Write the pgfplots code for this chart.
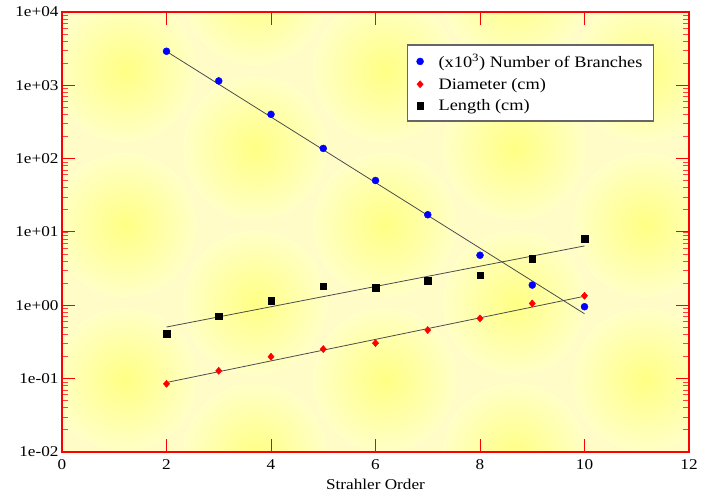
\documentclass[border=0pt]{standalone}
\usepackage{fontspec}
\setmainfont[FakeStretch=1.15]{Liberation Serif}
\usepackage{pgfplots}
\pgfplotsset{compat=1.18}
\tikzset{blob/.style={inner color=yellow!48, outer color=yellow!22}}
\newcommand\blob[2]{\shade[blob] (rel axis cs:#1,#2) circle (72bp);}
\begin{document}
\begin{tikzpicture}
\begin{axis}[
  name=ax,
  axis on top,
  scale only axis,
  width=627bp, height=440bp,
  ymode=log,
  xmin=0, xmax=12, ymin=1e-2, ymax=1e4,
  xtick={0,2,4,6,8,10,12},
  xticklabels={0,2,4,6,8,10,12},
  ytick={1e-2,1e-1,1,1e1,1e2,1e3,1e4},
  yticklabels={1e-02,1e-01,1e+00,1e+01,1e+02,1e+03,1e+04},
  tick align=inside,
  major tick length=13bp,
  minor tick length=6bp,
  axis line style={red, line width=1.6bp},
  every tick/.style={red, line width=1bp},
  every minor tick/.style={red!75, line width=0.9bp},
  ticklabel style={font=\fontsize{15}{18}\selectfont},
  xticklabel style={yshift=-4.5bp},
  xlabel={Strahler Order},
  xlabel style={font=\fontsize{15}{18}\selectfont, yshift=-2.5bp},
  axis background/.style={fill=yellow!22},
  legend style={at={(0.55,0.927)}, anchor=north west, draw=black!60, line width=1.5bp,
    font=\fontsize{16}{19}\selectfont, inner xsep=9bp, inner ysep=7bp, row sep=5bp,
    /tikz/every odd column/.append style={column sep=13bp}},
  legend cell align=left,
]
% background pattern (decoration)
\blob{0.1005}{0.868}\blob{0.1005}{0.516}\blob{0.1005}{0.164}
\blob{0.308}{0.691}\blob{0.308}{0.339}\blob{0.308}{-0.007}\blob{0.308}{1.043}
\blob{0.515}{0.868}\blob{0.515}{0.516}\blob{0.515}{0.164}
\blob{0.722}{0.691}\blob{0.722}{0.339}\blob{0.722}{-0.007}\blob{0.722}{1.043}
\blob{0.930}{0.868}\blob{0.930}{0.516}\blob{0.930}{0.164}
\blob{-0.107}{0.691}\blob{-0.107}{0.339}\blob{-0.107}{1.043}\blob{-0.107}{-0.007}
% fitted lines
\addplot[forget plot, black!70, line width=0.8bp] coordinates {(2,2900) (10,0.768)};
\addplot[forget plot, black!70, line width=0.8bp] coordinates {(2,0.0887) (10,1.33)};
\addplot[forget plot, black!70, line width=0.8bp] coordinates {(2,0.506) (10,6.46)};
% data
\addplot[only marks, mark=*, color=blue, line width=0.4pt, mark size=3.5bp]
  coordinates {(2,2915) (3,1148) (4,402) (5,138) (6,50.4) (7,17.2) (8,4.82) (9,1.89) (10,0.957)};
\addlegendentry{(x10\textsuperscript{3}) Number of Branches}
\addplot[only marks, mark=diamond*, color=red, line width=0.4pt, mark size=3.6bp, mark options={xscale=1.15}]
  coordinates {(2,0.085) (3,0.128) (4,0.199) (5,0.253) (6,0.305) (7,0.46) (8,0.664) (9,1.06) (10,1.35)};
\addlegendentry{Diameter (cm)}
\addplot[only marks, mark=square*, color=black, line width=0.4pt, mark size=3.3bp]
  coordinates {(2,0.409) (3,0.714) (4,1.16) (5,1.82) (6,1.74) (7,2.15) (8,2.59) (9,4.33) (10,8.13)};
\addlegendentry{Length (cm)}
\end{axis}
\path (ax.south west) ++(-62bp,-46bp) coordinate (bl);
\path (ax.north east) ++(12bp,12bp) coordinate (tr);
\pgfresetboundingbox
\path (bl) rectangle (tr);
\end{tikzpicture}
\end{document}
